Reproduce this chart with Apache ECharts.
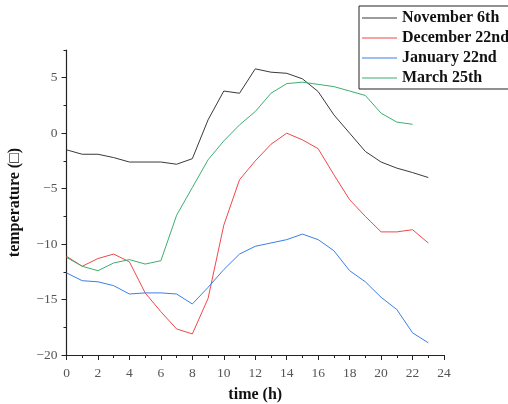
<!DOCTYPE html>
<html><head><meta charset="utf-8">
<script src="https://cdn.jsdelivr.net/npm/echarts@6/dist/echarts.min.js"></script>
<style>html,body{margin:0;padding:0;background:#fff}#c{width:508px;height:404px}</style>
</head><body><div id="c"></div>
<script>
var hours = [0,1,2,3,4,5,6,7,8,9,10,11,12,13,14,15,16,17,18,19,20,21,22,23];
var seriesNames = ['November 6th','December 22nd','January 22nd','March 25th'];
var nov6 = [-1.5,-1.9,-1.9,-2.2,-2.6,-2.6,-2.6,-2.8,-2.3,1.2,3.8,3.6,5.8,5.5,5.4,4.9,3.75,1.65,0,-1.65,-2.6,-3.15,-3.55,-4.0];
var dec22 = [-11.1,-12.0,-11.3,-10.9,-11.6,-14.4,-16.1,-17.65,-18.1,-14.9,-8.3,-4.2,-2.5,-1.0,0,-0.6,-1.4,-3.75,-6.0,-7.5,-8.9,-8.9,-8.7,-9.9];
var jan22 = [-12.6,-13.3,-13.4,-13.75,-14.5,-14.4,-14.4,-14.5,-15.4,-13.9,-12.3,-10.9,-10.2,-9.9,-9.6,-9.1,-9.6,-10.6,-12.4,-13.4,-14.8,-15.9,-18.0,-18.9];
var mar25 = [-11.2,-12.0,-12.4,-11.7,-11.4,-11.8,-11.5,-7.4,-4.9,-2.4,-0.7,0.75,1.95,3.6,4.47,4.6,4.4,4.2,3.8,3.4,1.8,1.0,0.8];
var colors = ['#3a3a3a','#f04848','#3a7fe6','#3cae6e'];
var xName = 'time (h)';
var yName = 'temperature (\u25A1)';

function pairs(v){ return v.map(function(y,i){ return [hours[i], y]; }); }
var allData = [nov6, dec22, jan22, mar25];
function minusFmt(v){ return String(v).replace('-', '\u2212'); }

var FONT = '"Liberation Serif", "DejaVu Serif", serif';
var chart = echarts.init(document.getElementById('c'), null, {renderer:'canvas'});
chart.setOption({
  animation:false,
  grid:{left:66.5, right:64, top:50, bottom:49, containLabel:false, outerBoundsMode:'none'},
  legend:{
    left:359, top:6, orient:'vertical',
    padding:[4,10,3,3], itemGap:4, itemWidth:35, itemHeight:14,
    borderColor:'#222', borderWidth:1, backgroundColor:'#fff',
    icon:'path://M0,7L35,7L35,8L0,8Z',
    textStyle:{fontFamily:FONT, fontWeight:'bold', fontSize:16, color:'#111', lineHeight:16, padding:[0,0,0,0]},
    data: seriesNames
  },
  xAxis:[{
    type:'value', min:0, max:24, interval:1, position:'bottom',
    axisLine:{onZero:false, lineStyle:{color:'#222', width:1.2}},
    axisTick:{length:3, lineStyle:{color:'#222'}},
    axisLabel:{show:false}, splitLine:{show:false}
  },{
    type:'value', min:0, max:24, interval:2, position:'bottom',
    name:xName, nameLocation:'middle', nameGap:32,
    nameTextStyle:{fontFamily:FONT, fontWeight:'bold', fontSize:16, color:'#111'},
    axisLine:{onZero:false, show:false},
    axisTick:{length:5, lineStyle:{color:'#222'}},
    axisLabel:{fontFamily:FONT, fontSize:13.5, color:'#555', margin:11},
    splitLine:{show:false}
  }],
  yAxis:[{
    type:'value', min:-20, max:7.5, interval:2.5, position:'left',
    axisLine:{show:true, onZero:false, lineStyle:{color:'#222', width:1.2}},
    axisTick:{show:true, length:3, lineStyle:{color:'#222'}},
    axisLabel:{show:false}, splitLine:{show:false}
  },{
    type:'value', min:-20, max:7.5, interval:5, position:'left',
    name:yName, nameLocation:'middle', nameGap:44,
    nameTextStyle:{fontFamily:FONT, fontWeight:'bold', fontSize:16, color:'#111'},
    axisLine:{show:false, onZero:false},
    axisTick:{show:true, length:5, lineStyle:{color:'#222'}},
    axisLabel:{fontFamily:FONT, fontSize:13.5, color:'#555', margin:9, showMaxLabel:false, formatter:minusFmt},
    splitLine:{show:false}
  }],
  series: seriesNames.map(function(n,i){
    return {name:n, type:'line', xAxisIndex:0, yAxisIndex:0, data:pairs(allData[i]),
      showSymbol:false, symbol:'none', lineStyle:{width:1, color:colors[i]}, itemStyle:{color:colors[i]}};
  })
});
</script></body></html>
